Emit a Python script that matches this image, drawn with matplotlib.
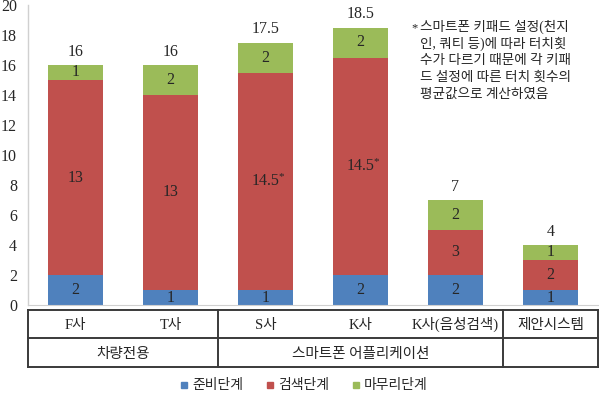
import matplotlib
matplotlib.use("Agg")
import matplotlib.pyplot as plt
import matplotlib.transforms as mtransforms
from matplotlib.lines import Line2D

plt.rcParams['font.family'] = ['Liberation Serif', 'Noto Sans CJK KR']

companies = ['F사', 'T사', 'S사', 'K사', 'K사(음성검색)', '제안시스템']
groups = ['차량전용', '스마트폰 어플리케이션', '']
group_spans = [(0, 1), (2, 4), (5, 5)]
prep = [2, 1, 1, 2, 2, 1]
search = [13, 13, 14.5, 14.5, 3, 2]
finish = [1, 2, 2, 2, 2, 1]
totals = [16, 16, 17.5, 18.5, 7, 4]
starred = [False, False, True, True, False, False]
series_names = ['준비단계', '검색단계', '마무리단계']
colors = ['#4F81BD', '#C0504D', '#9BBB59']
yticks = list(range(0, 21, 2))
note_lines = ['스마트폰 키패드 설정(천지',
              '인, 쿼티 등)에 따라 터치횟',
              '수가 다르기 때문에 각 키패',
              '드 설정에 따른 터치 횟수의',
              '평균값으로 계산하였음']

W, H = 599, 396
fig = plt.figure(figsize=(W / 100, H / 100), dpi=100)
ax = fig.add_axes([28 / W, 1 - 305 / H, 570 / W, 300 / H])

x = list(range(len(companies)))
bw = 0.57
txtc = '#262626'
ax.bar(x, prep, bw, color=colors[0])
ax.bar(x, search, bw, bottom=prep, color=colors[1])
bottom3 = [p + s for p, s in zip(prep, search)]
ax.bar(x, finish, bw, bottom=bottom3, color=colors[2])

fs = 11.5
for i in x:
    ax.text(i, prep[i] / 2, f'{prep[i]:g}', ha='center', va='center', fontsize=fs, color=txtc)
    yc = prep[i] + search[i] / 2
    ax.text(i, yc, f'{search[i]:g}', ha='center', va='center', fontsize=fs, color=txtc)
    if starred[i]:
        ax.annotate('*', xy=(i, yc), xytext=(9.5, 3.5), textcoords='offset points',
                    ha='left', va='center', fontsize=8, color=txtc)
    ax.text(i, bottom3[i] + finish[i] / 2, f'{finish[i]:g}', ha='center', va='center',
            fontsize=fs, color=txtc)
    ax.annotate(f'{totals[i]:g}', xy=(i, totals[i]), xytext=(0, 9.5), textcoords='offset points',
                ha='center', va='center', fontsize=fs, color=txtc)

ax.set_xlim(-0.5, len(companies) - 0.5)
ax.set_ylim(0, 20)
ax.set_yticks(yticks)
ax.set_yticklabels([str(t) for t in yticks], fontsize=fs, color=txtc)
ax.tick_params(axis='y', length=0, pad=8)
ax.set_xticks([])
for s in ['top', 'right']:
    ax.spines[s].set_visible(False)
ax.spines['left'].set_color('#d0d0d0')
ax.spines['bottom'].set_color('#d0d0d0')
ax.spines['left'].set_linewidth(1)

# category table
tr = mtransforms.blended_transform_factory(ax.transData, ax.transAxes)
def yf(p):
    return (305 - p) / 300.0
ytop, ymid, ybot = yf(310), yf(338), yf(367)
lc = '#3a3a3a'
lw = 1.4
xl, xr = -0.5, len(companies) - 0.5
for yy in [ytop, ymid, ybot]:
    ax.add_line(Line2D([xl, xr], [yy, yy], transform=tr, color=lc, lw=lw, clip_on=False))
for xx in [xl, 1.5, 4.5, xr]:
    ax.add_line(Line2D([xx, xx], [ytop, ybot], transform=tr, color=lc, lw=lw, clip_on=False))
for i, c in enumerate(companies):
    ax.text(i, yf(329), c, transform=tr, ha='center', va='baseline', fontsize=10.5, color=txtc)
for g, (a, b) in zip(groups, group_spans):
    if g:
        ax.text((a + b) / 2, yf(358), g, transform=tr, ha='center', va='baseline',
                fontsize=10.5, color=txtc)

# note
fig.text(411 / W, 1 - 28 / H, '*', ha='left', va='center', fontsize=9, color=txtc)
for k, line in enumerate(note_lines):
    fig.text(420 / W, 1 - (27 + 16.7 * k) / H, line, ha='left', va='center', fontsize=9.8,
             color=txtc)

# legend
handles = [Line2D([], [], marker='s', linestyle='', color=c, markersize=5) for c in colors]
fig.legend(handles, series_names, loc='center', bbox_to_anchor=(304 / W, 1 - 386 / H), ncol=3,
           frameon=False, fontsize=10, handlelength=0.6, handletextpad=0.3, columnspacing=1.6,
           labelcolor=txtc)

fig.savefig('out.png', dpi=100)
